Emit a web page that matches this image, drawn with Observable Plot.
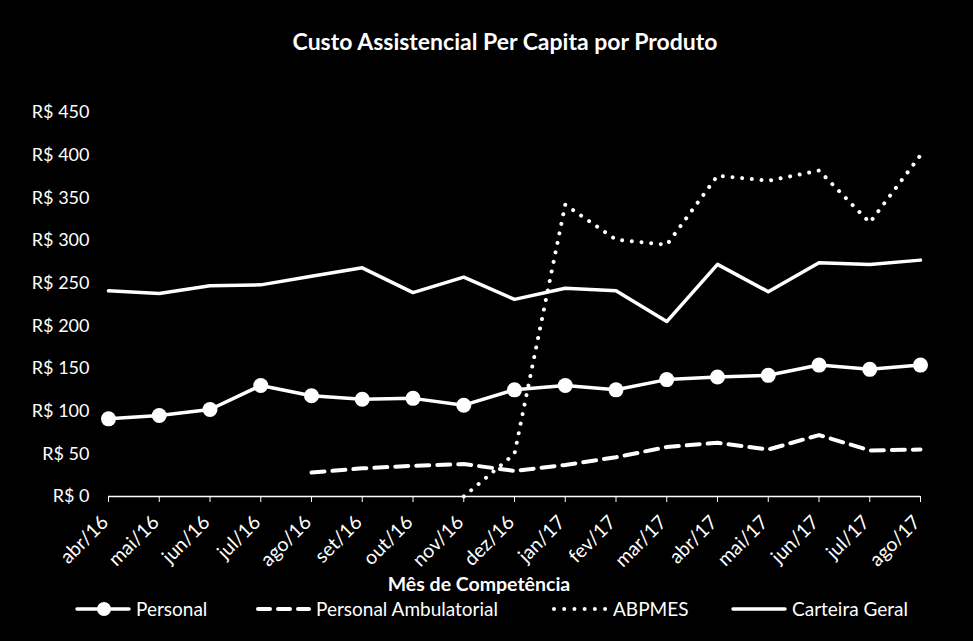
<!DOCTYPE html>
<html>
<head>
<meta charset="utf-8">
<script src="https://cdn.jsdelivr.net/npm/d3@7"></script>
<script src="https://cdn.jsdelivr.net/npm/@observablehq/plot@0.6"></script>
<style>
  html, body { margin: 0; padding: 0; background: #000; }
  #wrap { width: 973px; height: 641px; background: #000; color: #fff; font-family: Lato, "Open Sans", sans-serif; position: relative; overflow: hidden; }
  #title { height: 90px; position: relative; }
  #title span { position: absolute; left: 0; width: 1010px; text-align: center; top: 27px; line-height: 28px; font-size: 23px; font-weight: bold; }
  #below { height: 61px; position: relative; }
  .xlabel { position: absolute; left: 0; width: 958px; text-align: center; top: -7px; line-height: 22px; font-size: 19.5px; font-weight: bold; }
  .lg { position: absolute; top: 18px; height: 22px; line-height: 22px; font-size: 19px; white-space: nowrap; }
  .lg svg { position: absolute; top: 1px; left: 0; }
  svg.plot { display: block; }
</style>
</head>
<body>
<div id="wrap">
  <div id="title"><span>Custo Assistencial Per Capita por Produto</span></div>
  <div id="chart"></div>
  <div id="below">
    <div class="xlabel">Mês de Competência</div>
    <div id="legend"></div>
  </div>
</div>
<script>
const months = ["abr/16","mai/16","jun/16","jul/16","ago/16","set/16","out/16","nov/16","dez/16","jan/17","fev/17","mar/17","abr/17","mai/17","jun/17","jul/17","ago/17"];
const personal = [91,95,102,130,118,114,115,107,125,130,125,137,140,142,154,149,154];
const personalAmbulatorial = [null,null,null,null,28,33,36,38,30,37,46,58,63,55,72,54,55];
const abpmes = [null,null,null,null,null,null,null,0,50,342,301,295,376,370,382,321,400];
const carteiraGeral = [241,238,247,248,258,268,239,257,231,244,241,205,272,240,274,272,277];
const yTicks = [0,50,100,150,200,250,300,350,400,450];
const seriesNames = ["Personal","Personal Ambulatorial","ABPMES","Carteira Geral"];

const toRows = vals => months.map((m, i) => ({month: m, value: vals[i]})).filter(d => d.value !== null);
const pRows = toRows(personal);
const paRows = toRows(personalAmbulatorial);
const abRows = toRows(abpmes);
const cgRows = toRows(carteiraGeral);

const chart = Plot.plot({
  width: 973,
  height: 490,
  marginTop: 22,
  marginBottom: 84,
  marginLeft: 108,
  marginRight: 53,
  style: {background: "black", color: "white", fontFamily: "Lato, 'Open Sans', sans-serif", fontSize: "18px"},
  x: {type: "point", domain: months, range: [108, 920], padding: 0, round: false, label: null, tickSize: 6, tickFormat: () => ""},
  y: {domain: [0, 450], ticks: yTicks, label: null, tickSize: 0, tickPadding: 19, tickFormat: d => "R$ " + d},
  marks: [
    Plot.ruleY([0], {stroke: "white", strokeWidth: 1.5}),
    Plot.text(months, {x: d => d, frameAnchor: "bottom", dx: 1, dy: 27, rotate: -45, textAnchor: "end", fill: "white", fontSize: 19.5}),
    Plot.line(cgRows, {x: "month", y: "value", stroke: "white", strokeWidth: 3.5, strokeLinejoin: "round"}),
    Plot.line(abRows, {x: "month", y: "value", stroke: "white", strokeWidth: 4, strokeDasharray: "0.01,9.7", strokeLinecap: "round", strokeLinejoin: "round"}),
    Plot.line(paRows, {x: "month", y: "value", stroke: "white", strokeWidth: 4, strokeDasharray: "13,8", strokeLinecap: "round", strokeLinejoin: "round"}),
    Plot.line(pRows, {x: "month", y: "value", stroke: "white", strokeWidth: 3.5, strokeLinejoin: "round"}),
    Plot.dot(pRows, {x: "month", y: "value", r: 7.5, fill: "white", stroke: "none"})
  ]
});
document.getElementById("chart").appendChild(chart);

// legend
const legend = document.getElementById("legend");
const items = [
  {name: seriesNames[0], left: 75, kind: "dot"},
  {name: seriesNames[1], left: 255, kind: "dash"},
  {name: seriesNames[2], left: 552, kind: "dotted"},
  {name: seriesNames[3], left: 731, kind: "solid"}
];
for (const it of items) {
  const div = document.createElement("div");
  div.className = "lg";
  div.style.left = it.left + "px";
  const svg = d3.create("svg").attr("width", 56).attr("height", 20);
  const line = svg.append("line").attr("x1", 2).attr("x2", 54).attr("y1", 10).attr("y2", 10)
    .attr("stroke", "white").attr("stroke-linecap", "round");
  if (it.kind === "dot") { line.attr("stroke-width", 3.5); svg.append("circle").attr("cx", 29).attr("cy", 10).attr("r", 7).attr("fill", "white"); }
  if (it.kind === "dash") { line.attr("stroke-width", 4).attr("stroke-dasharray", "12,8").attr("x1", 3); }
  if (it.kind === "dotted") { line.attr("stroke-width", 4).attr("stroke-dasharray", "0.01,10.2"); }
  if (it.kind === "solid") { line.attr("stroke-width", 3.5); }
  div.appendChild(svg.node());
  const span = document.createElement("span");
  span.textContent = it.name;
  span.style.marginLeft = "61px";
  div.appendChild(span);
  legend.appendChild(div);
}
</script>
</body>
</html>
